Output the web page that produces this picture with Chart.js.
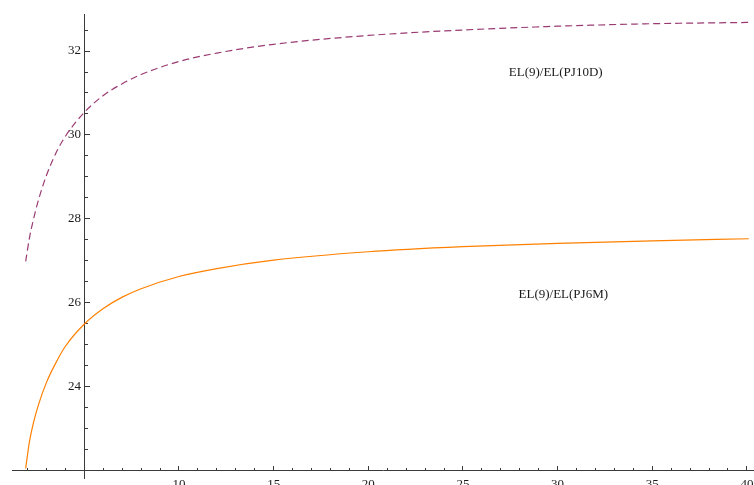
<!DOCTYPE html>
<html>
<head>
<meta charset="utf-8">
<script src="https://cdn.jsdelivr.net/npm/chart.js"></script>
<style>
    html, body { margin: 0; padding: 0; background: #fff; }
</style>
</head>
<body>
<canvas id="plotCanvas" width="754" height="485"></canvas>
<script>
// points
let xValues = [1.9, 2.1, 2.3, 2.6, 3, 3.5, 4, 5, 6, 7, 8, 10, 12, 15, 20, 25, 30, 35, 40.1];
let pj10dValues = [26.99, 27.55, 27.97, 28.49, 29.04, 29.57, 29.97, 30.54, 30.94, 31.22, 31.44, 31.75, 31.95, 32.16, 32.37, 32.50, 32.59, 32.65, 32.68];
let pj6mValues = [22.06, 22.70, 23.13, 23.61, 24.11, 24.58, 24.97, 25.50, 25.87, 26.14, 26.34, 26.63, 26.82, 27.02, 27.22, 27.34, 27.42, 27.48, 27.53];

let curveNames = ['EL(9)/EL(PJ10D)', 'EL(9)/EL(PJ6M)'];
let xTickLabels = [10, 15, 20, 25, 30, 35, 40];
let yTickLabels = [24, 26, 28, 30, 32];

// where the curve names sit, in data units
let labelAnchors = [[29.9, 31.48], [30.3, 26.19]];

let serif = { family: '"Liberation Serif", "DejaVu Serif", serif', size: 13 };
let axisColor = '#3a3a3a';

let xMinorTicks = [];
for (let v = 2; v <= 40; v++) {
    if (v % 5 !== 0) xMinorTicks.push(v);
}
let yMinorTicks = [];
for (let v = 22.5; v <= 32.5; v += 0.5) {
    if (yTickLabels.indexOf(v) < 0) yMinorTicks.push(v);
}

let toPoints = function (ys) {
    return xValues.map(function (x, i) { return { x: x, y: ys[i] }; });
};

// keep the axis labels from squeezing the plot area
let noSidePadding = function (s) { s.paddingLeft = 0; s.paddingRight = 0; };
let noEndPadding = function (s) { s.paddingTop = 0; s.paddingBottom = 0; };

let curveLabels = {
    id: 'curveLabels',
    afterDatasetsDraw: function (chart) {
        let ctx = chart.ctx;
        ctx.save();
        ctx.font = serif.size + 'px ' + serif.family;
        ctx.fillStyle = '#1a1a1a';
        ctx.textAlign = 'center';
        ctx.textBaseline = 'middle';
        curveNames.forEach(function (name, i) {
            let p = labelAnchors[i];
            ctx.fillText(name, chart.scales.x.getPixelForValue(p[0]), chart.scales.y.getPixelForValue(p[1]));
        });
        ctx.restore();
    }
};

let xMin = 1.178, xMax = 40.376;
let yMin = 21.833, yMax = 32.881;

let ctx = document.getElementById('plotCanvas').getContext('2d');

window.plot = new Chart(ctx, {
    type: 'line',
    data: {
        datasets: [{
            label: curveNames[0],
            data: toPoints(pj10dValues),
            borderColor: '#9a3a72',
            borderWidth: 1.2,
            borderDash: [7, 4],
            pointRadius: 0,
            cubicInterpolationMode: 'monotone',
            fill: false
        }, {
            label: curveNames[1],
            data: toPoints(pj6mValues),
            borderColor: '#ff8000',
            borderWidth: 1.2,
            pointRadius: 0,
            cubicInterpolationMode: 'monotone',
            fill: false
        }]
    },
    options: {
        responsive: false,
        animation: false,
        devicePixelRatio: 1,
        layout: { padding: { left: 12, top: 14, right: 0, bottom: 7 } },
        plugins: {
            legend: { display: false },
            tooltip: { enabled: false }
        },
        scales: {
            x: {
                type: 'linear', axis: 'x', position: { y: 22 }, min: xMin, max: xMax,
                afterBuildTicks: function (s) { s.ticks = xTickLabels.map(function (v) { return { value: v }; }); },
                afterFit: noSidePadding,
                grid: { drawOnChartArea: false, tickLength: -5, tickColor: axisColor, tickWidth: 1 },
                border: { color: axisColor, width: 1 },
                ticks: { padding: 11, maxRotation: 0, autoSkip: false, font: serif, color: '#1a1a1a' }
            },
            xMinor: {
                type: 'linear', axis: 'x', position: { y: 22 }, min: xMin, max: xMax,
                afterBuildTicks: function (s) { s.ticks = xMinorTicks.map(function (v) { return { value: v }; }); },
                afterFit: noSidePadding,
                grid: { drawOnChartArea: false, tickLength: -3, tickColor: axisColor, tickWidth: 1 },
                border: { display: false },
                ticks: { autoSkip: false, callback: function () { return ''; } }
            },
            y: {
                type: 'linear', axis: 'y', position: { x: 5 }, min: yMin, max: yMax,
                afterBuildTicks: function (s) { s.ticks = yTickLabels.map(function (v) { return { value: v }; }); },
                afterFit: noEndPadding,
                grid: { drawOnChartArea: false, tickLength: -6, tickColor: axisColor, tickWidth: 1 },
                border: { color: axisColor, width: 1 },
                ticks: { autoSkip: false, font: serif, color: '#1a1a1a', callback: function (v) { return v + ' '; } }
            },
            yMinor: {
                type: 'linear', axis: 'y', position: { x: 5 }, min: yMin, max: yMax,
                afterBuildTicks: function (s) { s.ticks = yMinorTicks.map(function (v) { return { value: v }; }); },
                afterFit: noEndPadding,
                grid: { drawOnChartArea: false, tickLength: -4, tickColor: axisColor, tickWidth: 1 },
                border: { display: false },
                ticks: { autoSkip: false, callback: function () { return ''; } }
            }
        }
    },
    plugins: [curveLabels]
});
</script>
</body>
</html>
